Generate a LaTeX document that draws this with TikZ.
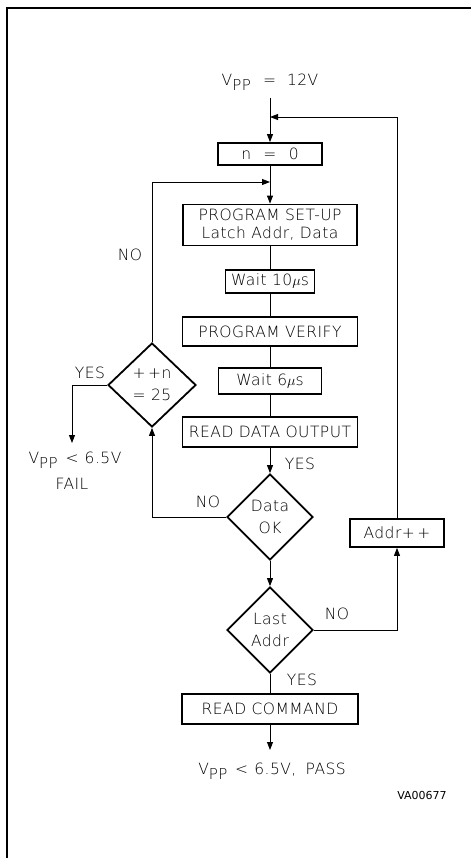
\documentclass[tikz,border=0pt]{standalone}
\usepackage{fontspec}
\setmainfont{DejaVu Sans ExtraLight}[LetterSpace=3]
\usetikzlibrary{arrows.meta,shapes.geometric}
\newcommand{\Vpp}{V\raisebox{-0.6ex}{\fontsize{15}{15}\selectfont PP}}
\begin{document}
\begin{tikzpicture}[x=1pt,y=-1pt,
  every node/.style={font=\fontsize{15.5}{18}\selectfont},
  procbox/.style={draw,line width=1.8pt,rectangle,inner sep=0pt,align=center},
  decide/.style={draw,line width=1.8pt,diamond,inner sep=0pt,align=center,font=\fontsize{15.5}{22}\selectfont},
  lbl/.style={inner sep=0pt},
  conn/.style={line width=0.9pt},
  arr/.style={conn,-{Triangle[length=8pt,width=6pt]}}]
\useasboundingbox (0,0) rectangle (471,859);
\draw[line width=1.6pt] (7,858) -- (7,8) -- (471,8);

\node[lbl] (vpp12) at (270,82) {\Vpp\hspace{0.8em}=\hspace{0.7em}12V};
\coordinate (top) at (270,98);
\coordinate (j1) at (270,117);
\coordinate (j2) at (270,182);

\node[procbox,minimum width=104pt,minimum height=22pt] (n0) at (270,154) {n\hspace{0.8em}=\hspace{0.8em}0};
\node[procbox,minimum width=174pt,minimum height=41pt,font=\fontsize{15.5}{18}\selectfont] (setup) at (270,225) {PROGRAM SET-UP\\Latch Addr, Data};
\node[procbox,minimum width=89pt,minimum height=23pt] (wait10) at (270,281.5) {Wait 10$\mu$s};
\node[procbox,minimum width=175pt,minimum height=29pt] (verify) at (270,331.5) {PROGRAM VERIFY};
\node[procbox,minimum width=103pt,minimum height=26pt] (wait6) at (270,381) {Wait 6$\mu$s};
\node[procbox,minimum width=175pt,minimum height=30pt] (readout) at (270,432) {READ DATA OUTPUT};
\node[decide,minimum width=86pt,minimum height=86pt] (dataok) at (270,517) {Data\\OK};
\node[decide,minimum width=88pt,minimum height=84pt] (ncheck) at (152,385) {+\,+n\\= 25};
\node[decide,minimum width=86pt,minimum height=86pt] (lastaddr) at (270,630) {Last\\Addr};
\node[procbox,minimum width=94pt,minimum height=28pt] (addrpp) at (397,533) {Addr+\,+};
\node[procbox,minimum width=176pt,minimum height=30pt] (readcmd) at (270,709) {READ COMMAND};

\coordinate (failpt) at (72,443);
\node[lbl] (fail1) at (75,460) {\Vpp\hspace{0.5em}<\hspace{0.4em}6.5V};
\node[lbl] (fail2) at (72,484) {FAIL};
\coordinate (passpt) at (270,750);
\node[lbl] (pass) at (272,771) {\Vpp\hspace{0.5em}<\hspace{0.4em}6.5V,\hspace{0.6em}PASS};
\node[lbl,font=\fontsize{11}{13}\selectfont] (code) at (422,795) {\fontspec{DejaVu Sans}VA00677};

\node[lbl] (noA) at (130,255) {NO};
\node[lbl] (yesA) at (90,373) {YES};
\node[lbl] (noB) at (208,502) {NO};
\node[lbl] (yesB) at (300,464) {YES};
\node[lbl] (noC) at (337,614) {NO};
\node[lbl] (yesC) at (302,680) {YES};

\draw[arr] (top) -- (n0.north);
\draw[arr] (addrpp.north) |- (j1);
\draw[arr] (n0.south) -- (setup.north);
\draw[arr] (ncheck.north) |- (j2);
\draw[conn] (setup.south) -- (wait10.north);
\draw[conn] (wait10.south) -- (verify.north);
\draw[conn] (verify.south) -- (wait6.north);
\draw[conn] (wait6.south) -- (readout.north);
\draw[arr] (readout.south) -- (dataok.north);
\draw[arr] (dataok.west) -| (ncheck.south);
\draw[arr] (ncheck.west) -| (failpt);
\draw[arr] (dataok.south) -- (lastaddr.north);
\draw[arr] (lastaddr.east) -| (addrpp.south);
\draw[conn] (lastaddr.south) -- (readcmd.north);
\draw[arr] (readcmd.south) -- (passpt);
\end{tikzpicture}
\end{document}
